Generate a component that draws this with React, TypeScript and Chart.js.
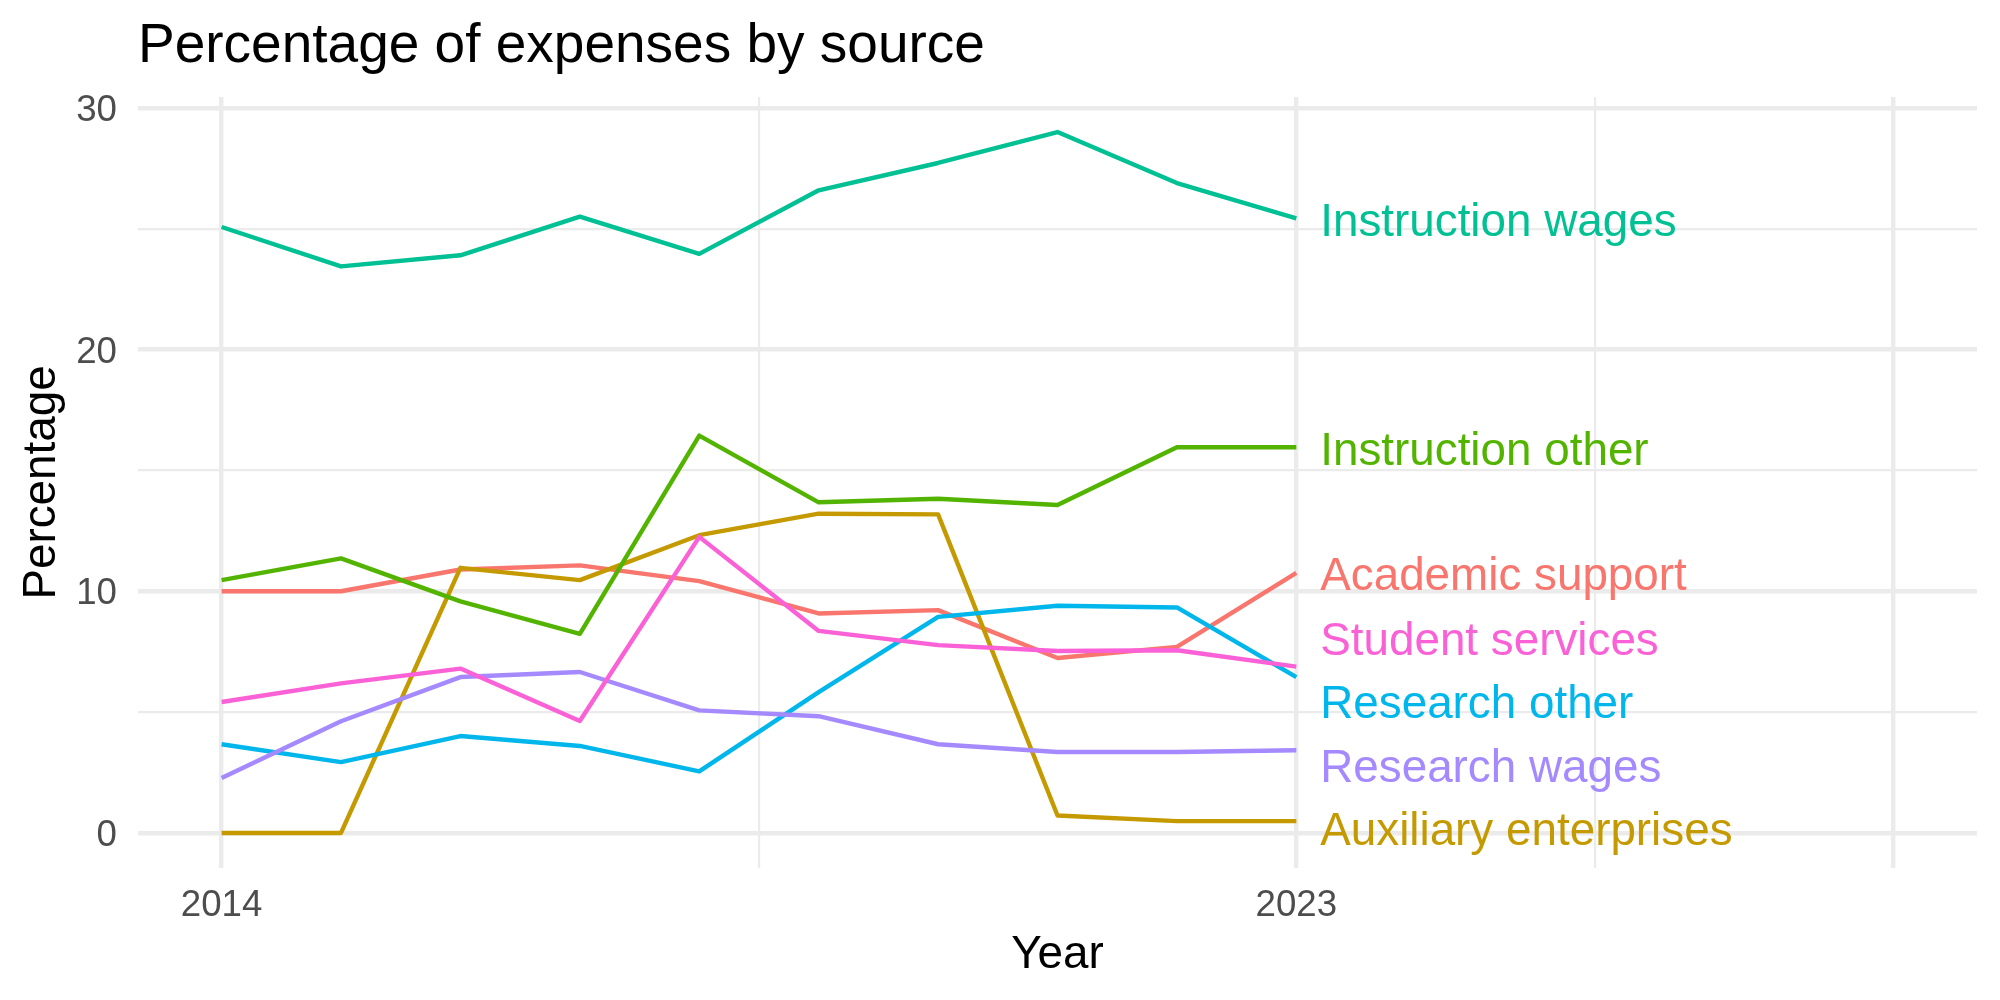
import { useEffect, useRef } from "react";
import { Chart, registerables } from "chart.js";

Chart.register(...registerables);

// Expense shares by source, 2014–2023 (percent of total expenses)
const years = [2014, 2015, 2016, 2017, 2018, 2019, 2020, 2021, 2022, 2023];

const academicSupport = [10.0, 10.0, 10.9, 11.07, 10.42, 9.08, 9.22, 7.24, 7.7, 10.76];
const auxiliaryEnterprises = [0, 0, 10.97, 10.46, 12.32, 13.21, 13.18, 0.72, 0.49, 0.49];
const instructionOther = [10.46, 11.36, 9.58, 8.24, 16.44, 13.68, 13.83, 13.57, 15.96, 15.96];
const instructionWages = [25.07, 23.44, 23.9, 25.5, 23.96, 26.59, 27.72, 29.0, 26.89, 25.43];
const researchOther = [3.67, 2.93, 4.01, 3.6, 2.55, 5.83, 8.94, 9.4, 9.33, 6.45];
const researchWages = [2.27, 4.62, 6.45, 6.66, 5.07, 4.83, 3.67, 3.35, 3.35, 3.42];
const studentServices = [5.42, 6.19, 6.8, 4.63, 12.25, 8.36, 7.77, 7.53, 7.56, 6.88];

const seriesNames = [
  "Academic support",
  "Auxiliary enterprises",
  "Instruction other",
  "Instruction wages",
  "Research other",
  "Research wages",
  "Student services",
];
const seriesValues = [
  academicSupport,
  auxiliaryEnterprises,
  instructionOther,
  instructionWages,
  researchOther,
  researchWages,
  studentServices,
];
const seriesColors = ["#F8766D", "#C49A00", "#53B400", "#00C094", "#00B6EB", "#A58AFF", "#FB61D7"];

const yBreaks = [0, 5, 10, 15, 20, 25, 30];
const yLabelled = [0, 10, 20, 30];
const xBreaks = [2014, 2018.5, 2023, 2025.5, 2028];
const xMajor = [2014, 2023, 2028];
const xLabelled = [2014, 2023];

const chartTitle = "Percentage of expenses by source";
const xTitle = "Year";
const yTitle = "Percentage";

const FONT = '"Liberation Sans", Arial, Helvetica, sans-serif';
const GRID = "#EBEBEB";

// Spread end-of-line labels apart vertically (pixel space) so they don't overlap.
// When two labels collide the lower one gives way a little more than the upper one.
function spreadLabels(pix: number[], gap: number, upShare = 0.43): number[] {
  const pos = pix.slice();
  const order = pix.map((_, i) => i).sort((a, b) => pix[a] - pix[b]); // top to bottom
  for (let iter = 0; iter < 5000; iter++) {
    let moved = false;
    for (let k = 1; k < order.length; k++) {
      const upper = order[k - 1];
      const lower = order[k];
      const d = pos[lower] - pos[upper];
      if (d < gap - 1e-4) {
        const deficit = gap - d;
        pos[upper] -= deficit * upShare;
        pos[lower] += deficit * (1 - upShare);
        moved = true;
      }
    }
    if (!moved) break;
  }
  return pos;
}

const decorations = {
  id: "decorations",
  afterDatasetsDraw(chart: any) {
    const { ctx, chartArea, scales } = chart;
    const xs = scales.x;
    const ys = scales.y;

    // series labels at the right end of each line
    const lastIdx = years.length - 1;
    const endPix = seriesValues.map((s) => ys.getPixelForValue(s[lastIdx]));
    const labelPix = spreadLabels(endPix, 63.5);
    const labelSize = 45.8;
    ctx.save();
    ctx.font = `${labelSize}px ${FONT}`;
    ctx.textAlign = "left";
    ctx.textBaseline = "alphabetic";
    const lx = xs.getPixelForValue(years[lastIdx] + 0.2);
    seriesNames.forEach((name, i) => {
      ctx.fillStyle = seriesColors[i];
      ctx.fillText(name, lx, labelPix[i] + labelSize * 0.358 + 1);
    });

    // plot title, aligned to the panel
    ctx.fillStyle = "#000000";
    ctx.font = `55px ${FONT}`;
    ctx.fillText(chartTitle, chartArea.left, 62);
    ctx.restore();
  },
};

export default function App() {
  const canvasRef = useRef<HTMLCanvasElement | null>(null);

  useEffect(() => {
    const canvas = canvasRef.current;
    if (!canvas) return;

    const datasets = seriesNames
      .map((name, i) => ({
        label: name,
        data: years.map((yr, j) => ({ x: yr, y: seriesValues[i][j] })),
        borderColor: seriesColors[i],
        backgroundColor: seriesColors[i],
        borderWidth: 4.4,
        borderJoinStyle: "round" as const,
        borderCapStyle: "butt" as const,
        pointRadius: 0,
        pointHoverRadius: 0,
        tension: 0,
        fill: false,
      }))
      .reverse();

    const chart = new Chart(canvas, {
      type: "line",
      data: { datasets },
      options: {
        animation: false,
        responsive: false,
        devicePixelRatio: 1,
        layout: { padding: { left: 0, right: 23, top: 97, bottom: 0 } },
        plugins: {
          legend: { display: false },
          title: { display: false },
          tooltip: { enabled: false },
        },
        scales: {
          x: {
            type: "linear",
            min: 2013.3,
            max: 2028.7,
            afterBuildTicks: (s: any) => {
              s.ticks = xBreaks.map((v) => ({ value: v }));
            },
            afterFit: (s: any) => {
              s.height = 132;
            },
            grid: {
              color: GRID,
              drawTicks: false,
              lineWidth: (c: any) => (c.tick && xMajor.includes(c.tick.value) ? 4.4 : 2.2),
            },
            border: { display: false },
            ticks: {
              autoSkip: false,
              maxRotation: 0,
              padding: 19.6,
              color: "#4D4D4D",
              font: { family: FONT, size: 36.67, lineHeight: 1 },
              callback: (v: any) => (xLabelled.includes(Number(v)) ? String(v) : ""),
            },
            title: {
              display: true,
              text: xTitle,
              color: "#000000",
              font: { family: FONT, size: 45.8, lineHeight: 1 },
              padding: { top: 0, bottom: 22 },
            },
          },
          y: {
            type: "linear",
            min: -1.45,
            max: 30.45,
            afterBuildTicks: (s: any) => {
              s.ticks = yBreaks.map((v) => ({ value: v }));
            },
            afterFit: (s: any) => {
              s.width = 138;
            },
            grid: {
              color: GRID,
              drawTicks: false,
              lineWidth: (c: any) => (c.tick && yLabelled.includes(c.tick.value) ? 4.4 : 2.2),
            },
            border: { display: false },
            ticks: {
              padding: 21,
              labelOffset: 2.9,
              color: "#4D4D4D",
              font: { family: FONT, size: 36.67, lineHeight: 1 },
              callback: (v: any) => (yLabelled.includes(Number(v)) ? String(v) : ""),
            },
            title: {
              display: true,
              text: yTitle,
              color: "#000000",
              font: { family: FONT, size: 45.8, lineHeight: 1 },
              padding: { top: 19.5, bottom: 0 },
            },
          },
        },
      },
      plugins: [decorations],
    });

    return () => chart.destroy();
  }, []);

  return (
    <div
      style={{
        position: "fixed",
        left: 0,
        top: 0,
        width: 2000,
        height: 1000,
        background: "#ffffff",
      }}
    >
      <canvas ref={canvasRef} width={2000} height={1000} style={{ display: "block" }} />
    </div>
  );
}
